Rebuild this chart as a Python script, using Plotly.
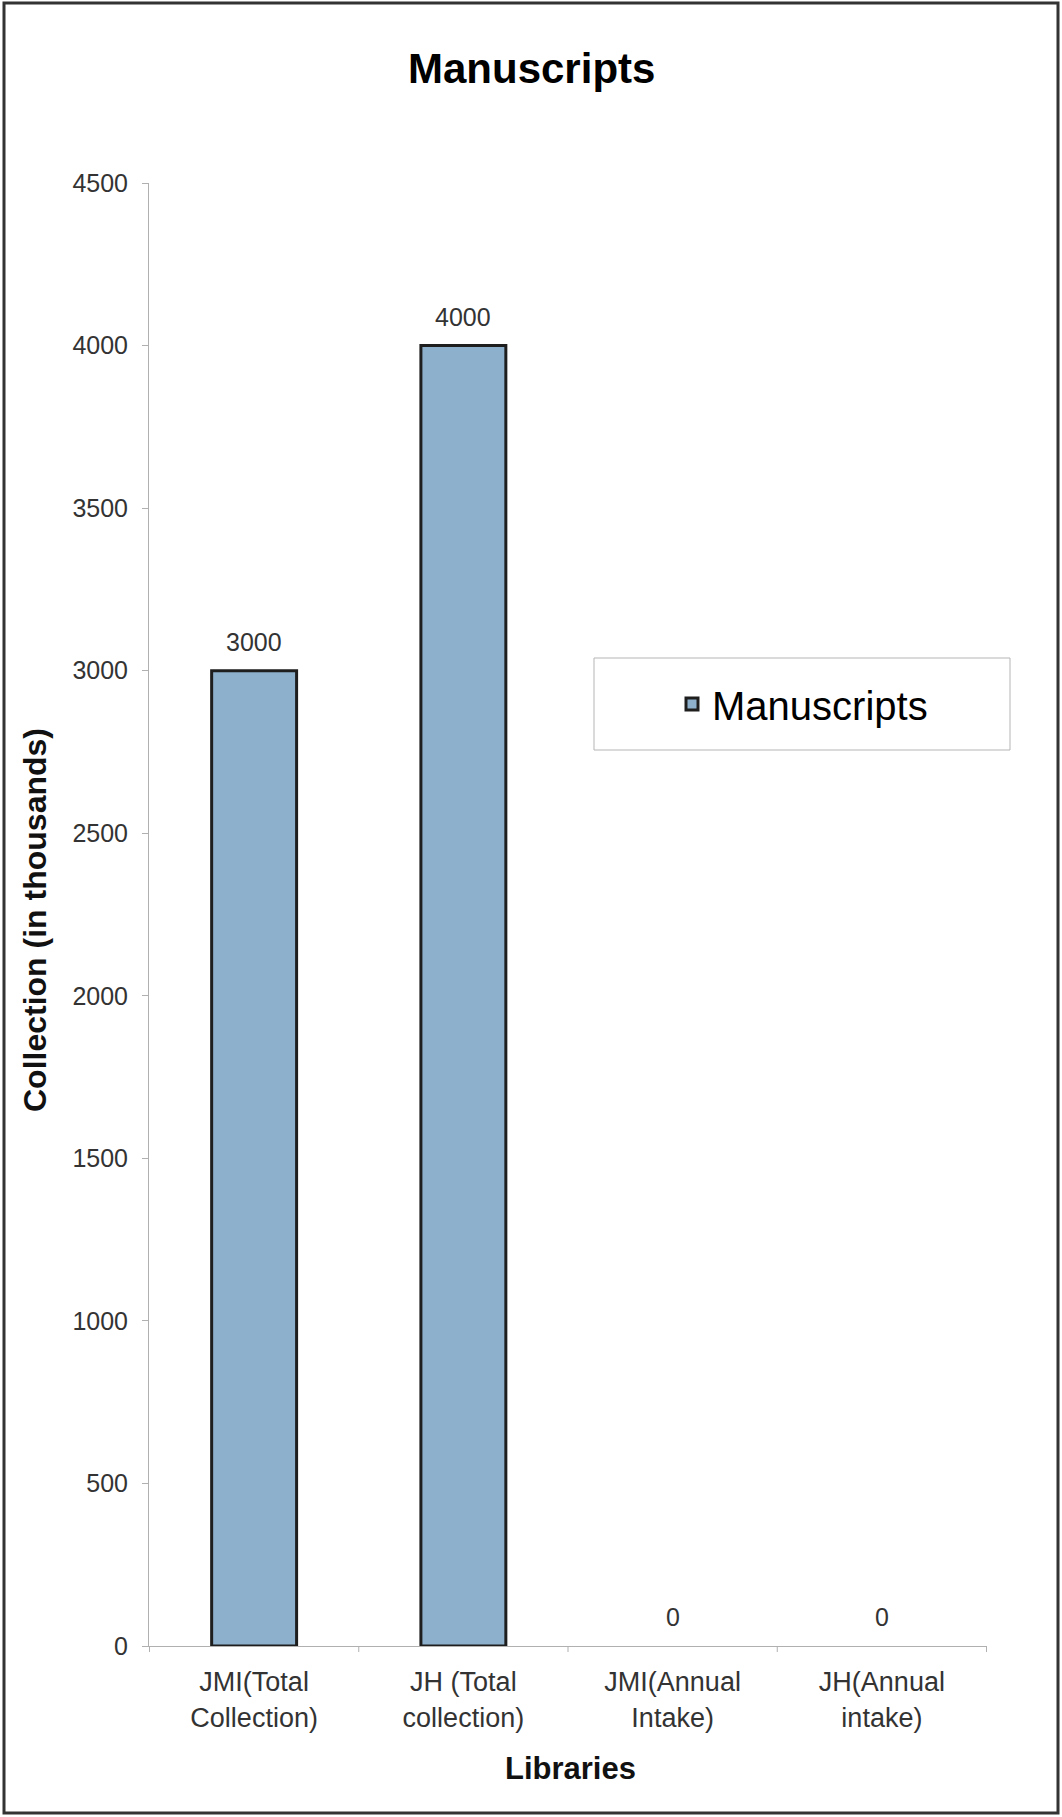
import plotly.graph_objects as go

categories = ["JMI(Total<br>Collection)", "JH (Total<br>collection)", "JMI(Annual<br>Intake)", "JH(Annual<br>intake)"]
values = [3000, 4000, 0, 0]
series_name = "Manuscripts"
y_ticks = [0, 500, 1000, 1500, 2000, 2500, 3000, 3500, 4000, 4500]

W, H = 1062, 1817
ML, MR, MT, MB = 149, 75, 183, 171
PW = W - ML - MR
PH = H - MT - MB

def px_x(px):
    return (px - ML) / PW

def px_y(py):
    return (H - MB - py) / PH

FONT = "Liberation Sans, Arial, sans-serif"
BAR_COLOR = "#8db0cc"

fig = go.Figure()
fig.add_trace(go.Bar(
    x=categories, y=values, name=series_name,
    marker=dict(color=BAR_COLOR,
                line=dict(color="#1e1e1e", width=[3 if v > 0 else 0 for v in values])),
    showlegend=True,
))

annotations = []
for c, v in zip(categories, values):
    annotations.append(dict(x=c, y=v, xref="x", yref="y", text=str(v), showarrow=False,
                            yanchor="bottom", yshift=13,
                            font=dict(family=FONT, size=25, color="#333333")))

annotations.append(dict(text="<b>Manuscripts</b>", xref="paper", yref="paper",
                        x=px_x(531), y=px_y(68), xanchor="center", yanchor="middle",
                        showarrow=False, font=dict(family=FONT, size=42, color="#000000")))
annotations.append(dict(text="<b>Collection (in thousands)</b>", xref="paper", yref="paper",
                        x=px_x(35), y=px_y(920), xanchor="center", yanchor="middle", textangle=-90,
                        showarrow=False, font=dict(family=FONT, size=32, color="#111111")))
annotations.append(dict(text="<b>Libraries</b>", xref="paper", yref="paper",
                        x=px_x(570), y=px_y(1768), xanchor="center", yanchor="middle",
                        showarrow=False, font=dict(family=FONT, size=31, color="#111111")))

shapes = [
    dict(type="rect", xref="paper", yref="paper",
         x0=px_x(4), x1=px_x(1058), y0=px_y(1813), y1=px_y(3),
         line=dict(color="#333333", width=3), fillcolor="rgba(0,0,0,0)", layer="below"),
    dict(type="rect", xref="paper", yref="paper",
         x0=px_x(594), x1=px_x(1010), y0=px_y(750), y1=px_y(658),
         line=dict(color="#b5b5b5", width=1), fillcolor="white", layer="below"),
]

fig.update_layout(
    width=W, height=H,
    margin=dict(l=ML, r=MR, t=MT, b=MB, autoexpand=False),
    paper_bgcolor="white", plot_bgcolor="white",
    bargap=0.594,
    font=dict(family=FONT, size=25, color="#333333"),
    annotations=annotations,
    shapes=shapes,
    legend=dict(x=px_x(672), y=px_y(704), xanchor="left", yanchor="middle",
                bgcolor="rgba(0,0,0,0)", borderwidth=0,
                font=dict(family=FONT, size=40, color="#000000")),
    xaxis=dict(showline=True, linecolor="#b0b0b0", linewidth=1,
               ticks="", showgrid=False, zeroline=False, ticklabelstandoff=12,
               tickfont=dict(family=FONT, size=27, color="#333333")),
    yaxis=dict(range=[0, 4500], tickvals=y_ticks, ticktext=[str(t) for t in y_ticks],
               showline=True, linecolor="#b0b0b0", linewidth=1,
               ticks="outside", ticklen=6, tickcolor="#b0b0b0",
               showgrid=False, zeroline=False, ticklabelstandoff=9,
               tickfont=dict(family=FONT, size=25, color="#333333")),
)

# category boundary tick marks on the x axis
for i in range(len(categories) + 1):
    fig.add_shape(type="line", xref="x", yref="paper", x0=i - 0.5, x1=i - 0.5,
                  y0=0, y1=-6 / PH, line=dict(color="#b0b0b0", width=1))

fig.write_html("out.html")
